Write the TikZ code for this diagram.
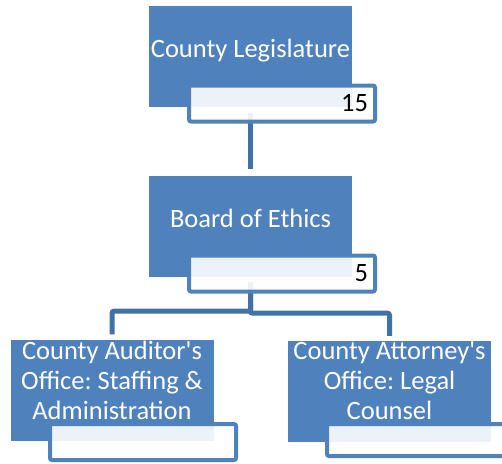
\documentclass[tikz,border=0pt]{standalone}
\usepackage{fontspec}
\newfontfamily\unitfont{Carlito}
\definecolor{unitblue}{RGB}{79,129,189}
\definecolor{linkblue}{RGB}{65,113,166}

\begin{document}
\begin{tikzpicture}[x=1pt,y=-1pt,
    unit/.style={fill=unitblue,minimum width=203pt,minimum height=101pt,inner sep=0pt},
    unitname/.style={text=white,font=\unitfont\fontsize{26.5}{30}\selectfont\frenchspacing,align=center,text depth=0pt,yshift=8pt},
    count/.style={draw=unitblue,line width=4pt,rounded corners=2pt,fill=white,fill opacity=0.9,text opacity=1,
        minimum width=186pt,minimum height=36pt,text width=172pt,inner xsep=7pt,align=right,
        font=\unitfont\fontsize{26.5}{30}\selectfont},
    link/.style={draw=linkblue,line width=5pt,rounded corners=2pt}]
                \useasboundingbox (0,0) rectangle (502,463);
                \node[unit,label={[unitname]center:County Legislature}] (legis) at (250.5,56.5) {};
                \node[unit,label={[unitname]center:Board of Ethics}] (ethics) at (250.5,226) {};
                \node[unit,label={[unitname,yshift=2pt]center:{County Auditor's\\Office: Staffing \&\\Administration}}] (auditor) at (112,390) {};
                \node[unit,label={[unitname,yshift=3pt]center:{County Attorney's\\Office: Legal\\Counsel}}] (attorney) at (389.5,391.5) {};
                \draw[link] ([yshift=-6pt]legis.south) -- ([yshift=6pt]ethics.north);
                \draw[link] ([yshift=-6pt]ethics.south) -- ++(0,28.5) -| ([yshift=5pt]auditor.north);
                \draw[link] ([yshift=-6pt]ethics.south) -- ++(0,30.5) -| ([yshift=5pt]attorney.north);
                \node[count] (legisN) at (282,103.5) {15};
                \node[count] (ethicsN) at (282,273.5) {5};
                \node[count] (auditorN) at (143,442) {};
                \node[count,minimum height=32pt] (attorneyN) at (420,440) {};
            \end{tikzpicture}
\end{document}
